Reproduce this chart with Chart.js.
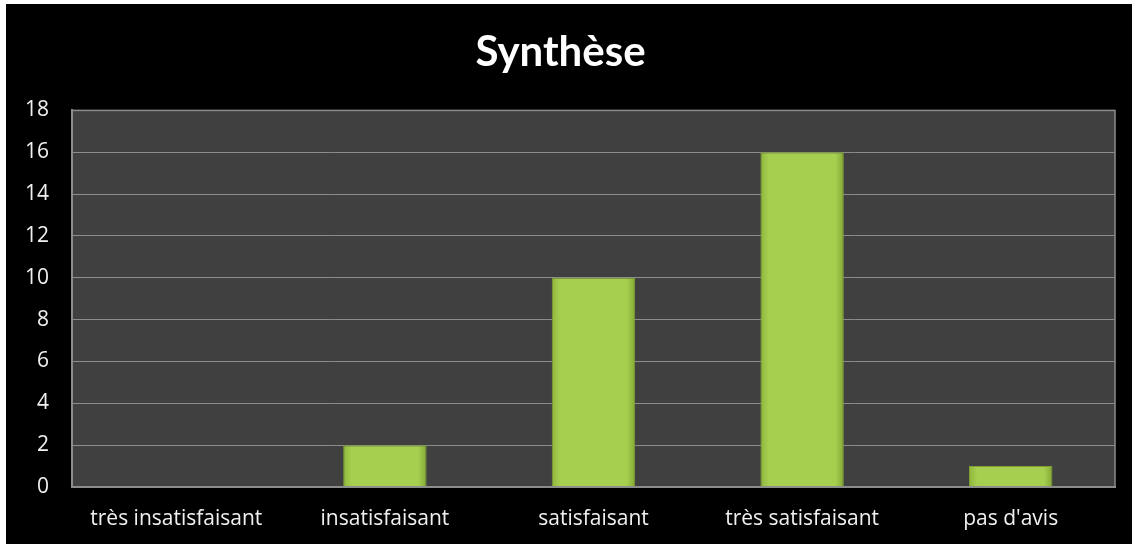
<!DOCTYPE html>
<html>
<head>
<meta charset="utf-8">
<script src="https://cdn.jsdelivr.net/npm/chart.js@4"></script>
<style>
  html, body { margin: 0; padding: 0; background: #fff; }
  #wrap { position: absolute; left: 6px; top: 4px; width: 1126px; height: 540px; background: #000; }
</style>
</head>
<body>
<div id="wrap"><canvas id="bar-chart" width="1126" height="540"></canvas></div>
<script>
// données
var categories = ["très insatisfaisant", "insatisfaisant", "satisfaisant", "très satisfaisant", "pas d'avis"];
var valeurs = [0, 2, 10, 16, 1];
var yTicks = [0, 2, 4, 6, 8, 10, 12, 14, 16, 18];

var tickFont = "'Open Sans', sans-serif";
var titleFont = "Lato, 'Open Sans', sans-serif";

// fond gris + cadre de la zone de tracé
var plotBg = {
  id: 'plotBg',
  beforeDraw: function (chart) {
    var a = chart.chartArea, ctx = chart.ctx;
    ctx.save();
    ctx.fillStyle = '#404040';
    ctx.fillRect(a.left, a.top, a.right - a.left, a.bottom - a.top);
    ctx.restore();
  },
  afterDatasetsDraw: function (chart) {
    var a = chart.chartArea, ctx = chart.ctx;
    ctx.save();
    ctx.strokeStyle = '#8c8c8c';
    ctx.lineWidth = 1.5;
    ctx.strokeRect(a.left, a.top, a.right - a.left, a.bottom - a.top);
    ctx.restore();
  }
};

function barFill(context) {
  var chart = context.chart;
  var xs = chart.scales && chart.scales.x;
  if (!chart.chartArea || !xs || context.dataIndex === undefined) return '#a6cf4f';
  var cx = xs.getPixelForValue(context.dataIndex);
  var half = (xs.width / categories.length) * 0.4 / 2;
  if (!isFinite(cx) || !isFinite(half)) return '#a6cf4f';
  var g = chart.ctx.createLinearGradient(cx - half, 0, cx + half, 0);
  g.addColorStop(0, '#8fb63b');
  g.addColorStop(0.1, '#a6cf50');
  g.addColorStop(0.9, '#a6cf50');
  g.addColorStop(1, '#84a834');
  return g;
}

new Chart(document.getElementById("bar-chart"), {
  type: 'bar',
  data: {
    labels: categories,
    datasets: [
      {
        label: "Synthèse",
        data: valeurs,
        backgroundColor: barFill,
        borderColor: '#7e9f33',
        borderWidth: 1,
        barPercentage: 0.8,
        categoryPercentage: 0.5
      }
    ]
  },
  options: {
    responsive: false,
    animation: false,
    layout: { padding: { left: 0, right: 17, top: 0, bottom: 0 } },
    plugins: {
      legend: { display: false },
      tooltip: { enabled: false },
      title: {
        display: true,
        text: 'Synthèse',
        color: '#ffffff',
        font: { family: titleFont, size: 42, weight: 'bold', lineHeight: 1.2 },
        padding: { top: 23, bottom: 33 }
      }
    },
    scales: {
      x: {
        grid: { display: false, drawTicks: false },
        border: { color: '#8c8c8c', width: 2 },
        ticks: { color: '#f0f0f0', font: { family: tickFont, size: 21 }, padding: 19, maxRotation: 0 },
        afterFit: function (s) { s.height = 57; }
      },
      y: {
        min: 0,
        max: 18,
        afterBuildTicks: function (s) { s.ticks = yTicks.map(function (v) { return { value: v }; }); },
        grid: { color: '#8c8c8c', lineWidth: 1, drawTicks: false },
        border: { color: '#8c8c8c', width: 2 },
        ticks: { color: '#f0f0f0', font: { family: tickFont, size: 21 }, padding: 23 },
        afterFit: function (s) { s.width = 66; }
      }
    }
  },
  plugins: [plotBg]
});
</script>
</body>
</html>
